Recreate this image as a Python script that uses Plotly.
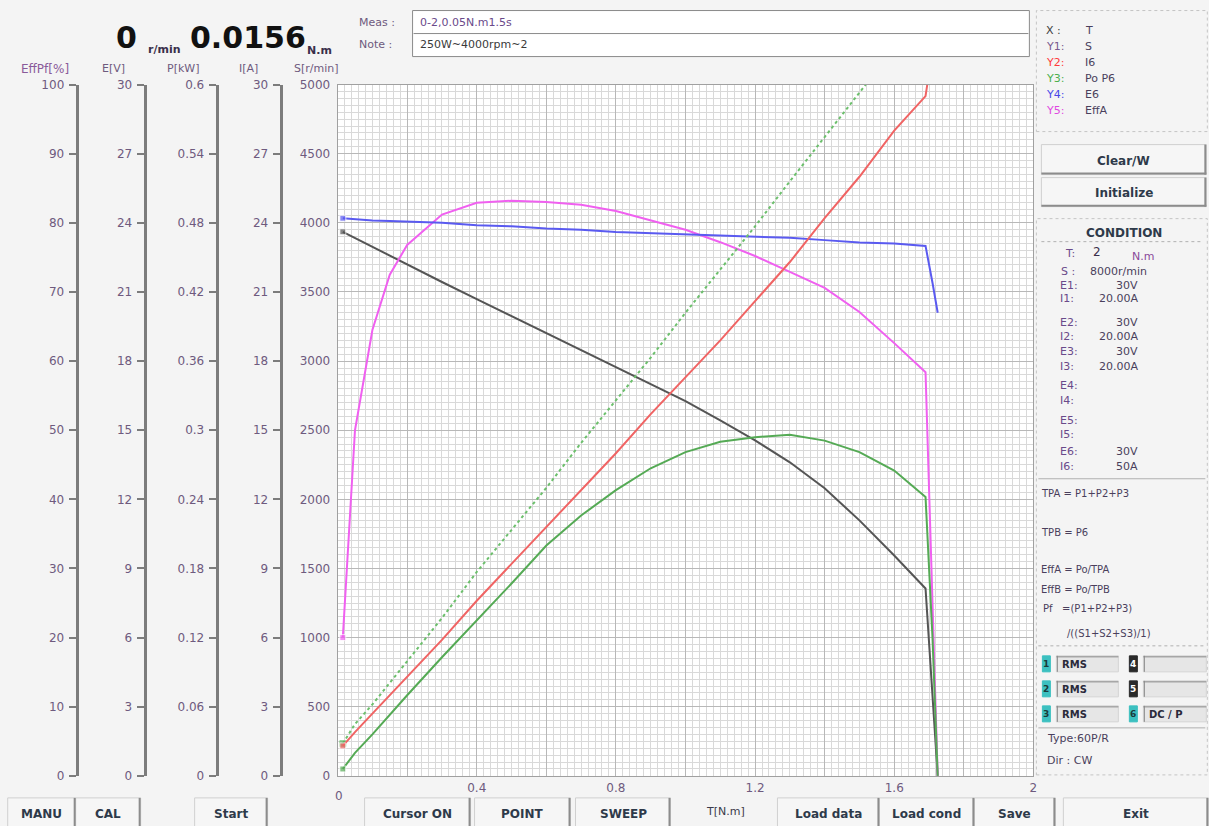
import plotly.graph_objects as go

W, H = 1209, 826

# ---------------- data ----------------
torque = [0.015, 0.05, 0.1, 0.15, 0.2, 0.3, 0.4, 0.5, 0.6, 0.7, 0.8, 0.9, 1.0,
          1.1, 1.2, 1.3, 1.4, 1.5, 1.6, 1.69, 1.71, 1.725]
speed_s = [3935, 3890, 3826, 3760, 3695, 3572, 3449, 3326, 3203, 3080, 2956, 2833, 2710,
           2572, 2427, 2268, 2080, 1848, 1594, 1355, 543, 0]
current_i6 = [1.3, 1.9, 2.7, 3.5, 4.3, 5.9, 7.6, 9.2, 10.8, 12.4, 14.0, 15.7, 17.3,
              18.9, 20.6, 22.3, 24.2, 26.0, 28.0, 29.5, 31.5, 33.0]
power_po = [0.006, 0.020, 0.036, 0.053, 0.070, 0.103, 0.135, 0.167, 0.200, 0.226, 0.248, 0.267, 0.281,
            0.290, 0.294, 0.296, 0.291, 0.281, 0.265, 0.242, 0.120, 0.0]
power_p6 = [0.028, 0.045, 0.062, 0.081, 0.100, 0.137, 0.177, 0.213, 0.250, 0.289, 0.326, 0.363, 0.402,
            0.439, 0.477, 0.516, 0.554, 0.593, 0.632, 0.665, 0.670, 0.660]
voltage_e6 = [24.2, 24.15, 24.1, 24.08, 24.05, 24.0, 23.9, 23.85, 23.75, 23.7, 23.6, 23.55, 23.5,
              23.45, 23.4, 23.35, 23.25, 23.15, 23.1, 23.0, 21.4, 20.1]
eff_a = [20.0, 50.0, 64.5, 72.5, 76.8, 81.2, 82.9, 83.2, 83.0, 82.6, 81.7, 80.4, 79.0,
         77.2, 75.2, 72.9, 70.6, 67.1, 62.6, 58.4, 26.5, 0.0]

x_tickvals = [0, 0.2, 0.4, 0.6, 0.8, 1.0, 1.2, 1.4, 1.6, 1.8, 2.0]
x_ticktext = ["", "", "0.4", "", "0.8", "", "1.2", "", "1.6", "", "2"]
s_tickvals = [0, 500, 1000, 1500, 2000, 2500, 3000, 3500, 4000, 4500, 5000]
eff_tickvals = [0, 10, 20, 30, 40, 50, 60, 70, 80, 90, 100]
e_tickvals = [0, 3, 6, 9, 12, 15, 18, 21, 24, 27, 30]
p_tickvals = [0, 0.06, 0.12, 0.18, 0.24, 0.3, 0.36, 0.42, 0.48, 0.54, 0.6]
p_ticktext = ["0", "0.06", "0.12", "0.18", "0.24", "0.3", "0.36", "0.42", "0.48", "0.54", "0.6"]
i_tickvals = [0, 3, 6, 9, 12, 15, 18, 21, 24, 27, 30]

# ---------------- styling ----------------
FONT = "DejaVu Sans, Verdana, sans-serif"
LBL = "#6e5a7e"
TXT = "#4a3f5c"
BTN = "#2e3a4a"
AXC = "#7c7c7c"

# screen-pixel -> paper conversion (calibrated against the rendered page)
SX, OX = 0.997, 0.3
SY, OY = 0.9826, 6.46

def px(x):
    return ((x - OX) / SX) / W

def py(y):
    return 1 - ((y - OY) / SY) / H

X0, X1 = 338, 1034
Y0, Y1 = 84, 775
xdom = [px(X0), px(X1)]
ydom = [py(Y1), py(Y0)]

fig = go.Figure()

n = len(torque)
def msize(s=6):
    return [s] + [0] * (n - 1)

fig.add_trace(go.Scatter(x=torque, y=speed_s, mode="lines+markers", yaxis="y",
                         line=dict(color="#555555", width=2), marker=dict(size=msize(), symbol="square", color="#555555"),
                         name="S", showlegend=False))
fig.add_trace(go.Scatter(x=torque, y=current_i6, mode="lines+markers", yaxis="y5",
                         line=dict(color="#f06464", width=2), marker=dict(size=msize(), symbol="square", color="#f06464"),
                         name="I6", showlegend=False))
fig.add_trace(go.Scatter(x=torque, y=power_p6, mode="lines+markers", yaxis="y4",
                         line=dict(color="#6cbf6c", width=2, dash="3px,3px"), marker=dict(size=msize(), symbol="square", color="#5aaa5a"),
                         name="P6", showlegend=False))
fig.add_trace(go.Scatter(x=torque, y=power_po, mode="lines+markers", yaxis="y4",
                         line=dict(color="#55aa55", width=2), marker=dict(size=msize(), symbol="square", color="#55aa55"),
                         name="Po", showlegend=False))
fig.add_trace(go.Scatter(x=torque, y=voltage_e6, mode="lines+markers", yaxis="y3",
                         line=dict(color="#5a5af0", width=2), marker=dict(size=msize(), symbol="square", color="#5a5af0"),
                         name="E6", showlegend=False))
fig.add_trace(go.Scatter(x=torque, y=eff_a, mode="lines+markers", yaxis="y2",
                         line=dict(color="#f060f0", width=2), marker=dict(size=msize(), symbol="square", color="#f060f0"),
                         name="EffA", showlegend=False))

def free_axis(pos, rng, vals, text=None):
    d = dict(anchor="free", position=pos, overlaying="y", side="left", domain=ydom,
             range=rng, tickmode="array", tickvals=vals, showgrid=False, zeroline=False,
             showline=True, linecolor=AXC, linewidth=3, ticks="outside", ticklen=7,
             tickwidth=2, tickcolor=AXC, ticklabelstandoff=2,
             tickfont=dict(family=FONT, size=12, color=LBL), fixedrange=True)
    if text is not None:
        d["ticktext"] = text
    return d

fig.update_layout(
    width=W, height=H, autosize=False, margin=dict(l=0, r=0, t=0, b=0),
    paper_bgcolor="#f4f4f4", plot_bgcolor="#ffffff",
    showlegend=False,
    xaxis=dict(domain=xdom, range=[0, 2], tickmode="array", tickvals=x_tickvals, ticktext=x_ticktext,
               showgrid=True, gridcolor="#b8b8b8", gridwidth=1, zeroline=False,
               showline=True, linecolor="#a0a0a0", linewidth=1, mirror=True, ticks="",
               tickfont=dict(family=FONT, size=12, color=LBL), ticklabelstandoff=1,
               minor=dict(dtick=0.02, tick0=0, showgrid=True, gridcolor="#d9d9d9", gridwidth=1),
               fixedrange=True),
    yaxis=dict(domain=ydom, range=[0, 5000], tickmode="array", tickvals=s_tickvals,
               showgrid=True, gridcolor="#b8b8b8", gridwidth=1, zeroline=False,
               showline=True, linecolor="#a0a0a0", linewidth=1, mirror=True, ticks="",
               tickfont=dict(family=FONT, size=12, color=LBL), ticklabelstandoff=4,
               minor=dict(dtick=50, tick0=0, showgrid=True, gridcolor="#d9d9d9", gridwidth=1),
               fixedrange=True),
    yaxis2=free_axis(px(77), [0, 100], eff_tickvals),
    yaxis3=free_axis(px(145), [0, 30], e_tickvals),
    yaxis4=free_axis(px(217), [0, 0.6], p_tickvals, p_ticktext),
    yaxis5=free_axis(px(281), [0, 30], i_tickvals),
)

shapes = []
annos = []

def txt(x, y, s, size=11, color=TXT, anchor="left", bold=False, family=FONT):
    if bold:
        s = "<b>" + s + "</b>"
    annos.append(dict(x=px(x), y=py(y), xref="paper", yref="paper", text=s, showarrow=False,
                      xanchor=anchor, yanchor="middle", font=dict(size=size, color=color, family=family)))

def rect(x0, y0, x1, y1, fill=None, line="#a0a0a0", lw=1, dash=None):
    shp = dict(type="rect", xref="paper", yref="paper", x0=px(x0), x1=px(x1), y0=py(y1), y1=py(y0),
               line=dict(color=line, width=lw), layer="below")
    if dash:
        shp["line"]["dash"] = dash
    if fill:
        shp["fillcolor"] = fill
    shapes.append(shp)

def hline(x0, x1, y, color="#9a9a9a", lw=1, dash=None):
    d = dict(type="line", xref="paper", yref="paper", x0=px(x0), x1=px(x1), y0=py(y), y1=py(y),
             line=dict(color=color, width=lw))
    if dash:
        d["line"]["dash"] = dash
    shapes.append(d)

def vline(x, y0, y1, color="#9a9a9a", lw=1):
    shapes.append(dict(type="line", xref="paper", yref="paper", x0=px(x), x1=px(x), y0=py(y0), y1=py(y1),
                       line=dict(color=color, width=lw)))

def button(x0, y0, x1, y1, label, size=12):
    rect(x0, y0, x1, y1, fill="#f6f6f6", line="#d0d0d0", lw=1)
    hline(x0, x1, y1 - 1, color="#8c8c8c", lw=2)
    vline(x1 - 1, y0, y1, color="#8c8c8c", lw=2)
    txt((x0 + x1) / 2, (y0 + y1) / 2 + 1, label, size=size, color=BTN, anchor="center", bold=True)

# ---- header ----
txt(127, 37, "0", size=30, color="#111111", anchor="center", bold=True)
txt(146, 49, "r/min", size=11, color="#3a2f4a", bold=True)
txt(188, 37, "0.0156", size=30, color="#111111", bold=True)
txt(305, 50, "N.m", size=11, color="#3a2f4a", bold=True)
txt(357, 22, "Meas :", size=11, color=LBL)
txt(357, 44, "Note :", size=11, color=LBL)
rect(413, 10, 1030, 56, fill="#ffffff", line="#8a8a8a", lw=1)
hline(414, 1029, 33, color="#8a8a8a", lw=1)
txt(418, 22, "0-2,0.05N.m1.5s", size=11, color="#6a4a8a")
txt(418, 44, "250W~4000rpm~2", size=11, color="#3a3a3a")

# ---- left axis titles ----
txt(45, 68, "EffPf[%]", size=12, color="#8a5a9a", anchor="center")
txt(114, 68, "E[V]", size=11, color=LBL, anchor="center")
txt(183, 68, "P[kW]", size=11, color=LBL, anchor="center")
txt(249, 68, "I[A]", size=11, color=LBL, anchor="center")
txt(317, 68, "S[r/min]", size=11, color=LBL, anchor="center")
txt(339, 795, "0", size=12, color=LBL, anchor="center")
txt(726, 811, "T[N.m]", size=11, color="#3a3a4a", anchor="center")

# ---- right legend panel ----
rect(1037, 10, 1208, 131, line="#c4c4c4", lw=1, dash="dot")
leg_rows = [("X :", "T", "#404040"), ("Y1:", "S", "#7a5a8e"), ("Y2:", "I6", "#ff3b3b"),
            ("Y3:", "Po P6", "#4caf4c"), ("Y4:", "E6", "#4848e8"), ("Y5:", "EffA", "#e048e0")]
for k, (a, b, c) in enumerate(leg_rows):
    yy = 30 + k * 16
    txt(1045, yy, a, size=11, color=c)
    txt(1084, yy, b, size=11, color=TXT)

button(1042, 144, 1207, 174, "Clear/W")
button(1042, 177, 1207, 206, "Initialize")

# ---- condition panel ----
rect(1037, 218, 1208, 774, line="#c4c4c4", lw=1, dash="dot")
txt(1125, 232, "CONDITION", size=12, color=BTN, anchor="center", bold=True)
hline(1042, 1204, 241, color="#b0b0b0", lw=1, dash="dot")
txt(1078, 253, "T:", size=11, color="#6a4a8a", anchor="right")
txt(1092, 251, "2", size=12, color="#3a2f4a")
txt(1131, 256, "N.m", size=11, color="#8a4a9a")
txt(1078, 271, "S :", size=11, color="#6a4a8a", anchor="right")
txt(1089, 271, "8000r/min", size=11, color=TXT)
cond_rows = [("E1:", "30V", 285), ("I1:", "20.00A", 298), ("E2:", "30V", 322), ("I2:", "20.00A", 336),
             ("E3:", "30V", 351), ("I3:", "20.00A", 366), ("E4:", "", 385), ("I4:", "", 400),
             ("E5:", "", 420), ("I5:", "", 434), ("E6:", "30V", 451), ("I6:", "50A", 466)]
for a, b, yy in cond_rows:
    txt(1059, yy, a, size=11, color="#6a4a8a")
    if b:
        txt(1141, yy, b, size=11, color=TXT, anchor="right")
hline(1039, 1206, 478, color="#b0b0b0", lw=1)
txt(1040, 493, "TPA = P1+P2+P3", size=10, color=TXT)
txt(1040, 532, "TPB = P6", size=10, color=TXT)
txt(1040, 569, "EffA = Po/TPA", size=10, color=TXT)
txt(1040, 589, "EffB = Po/TPB", size=10, color=TXT)
txt(1042, 608, "Pf   =(P1+P2+P3)", size=10, color=TXT)
txt(1066, 633, "/((S1+S2+S3)/1)", size=10, color=TXT)
hline(1039, 1206, 645, color="#b0b0b0", lw=1, dash="dot")
chan = [("1", "RMS", "#3cc0c0", 1043, 663), ("2", "RMS", "#3cc0c0", 1043, 688), ("3", "RMS", "#3cc0c0", 1043, 713),
        ("4", "", "#2a2a2a", 1130, 663), ("5", "", "#2a2a2a", 1130, 688), ("6", "DC / P", "#3cc0c0", 1130, 713)]
for num, lab, col, xx, yy in chan:
    rect(xx, yy - 8, xx + 8, yy + 8, fill=col, line=col, lw=1)
    txt(xx + 4, yy, num, size=9, color="#ffffff" if col == "#2a2a2a" else "#1a3a3a", anchor="center", bold=True)
    rect(xx + 14, yy - 8, xx + (76 if xx < 1100 else 77), yy + 8, fill="#e6e6e6", line="#d4d4d4", lw=1)
    hline(xx + 14, xx + (76 if xx < 1100 else 77), yy - 7, color="#8a8a8a", lw=1)
    vline(xx + 15, yy - 8, yy + 8, color="#8a8a8a", lw=1)
    if lab:
        txt(xx + 18, yy + 1, lab, size=10, color="#2a2a3a", bold=True)
hline(1039, 1206, 727, color="#b0b0b0", lw=1)
txt(1046, 738, "Type:60P/R", size=11, color=TXT)
txt(1046, 760, "Dir : CW", size=11, color=TXT)

# ---- bottom buttons ----
for x0, x1, lab in [(8, 76, "MANU"), (76, 141, "CAL"), (195, 268, "Start"), (365, 471, "Cursor ON"),
                    (475, 571, "POINT"), (576, 671, "SWEEP"), (778, 880, "Load data"), (880, 975, "Load cond"),
                    (975, 1056, "Save"), (1064, 1209, "Exit")]:
    button(x0, 797, x1, 828, lab)

fig.update_layout(shapes=shapes, annotations=annos)

fig.write_html("out.html", config={"displayModeBar": False, "staticPlot": True, "responsive": False},
               post_script="document.body.style.margin='0';document.body.style.overflow='hidden';")
